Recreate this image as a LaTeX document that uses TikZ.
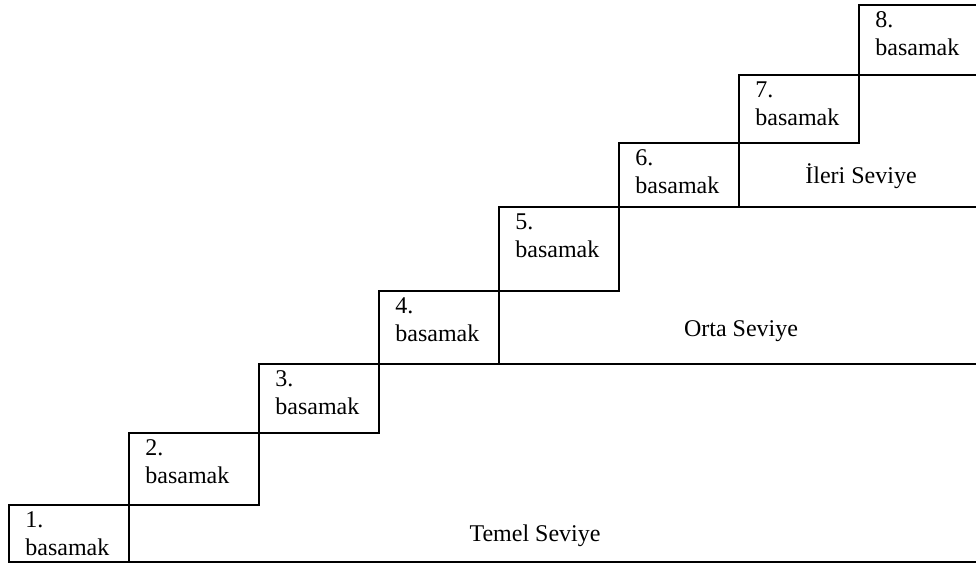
\documentclass[tikz,border=0pt]{standalone}
\usepackage{fontspec}
\setmainfont{Liberation Serif}
\tikzset{
	stepline/.style={line width=1.2pt,line join=miter},
	steptext/.style={anchor=base west,inner sep=0pt,font=\fontsize{12}{14}\selectfont},
	leveltext/.style={anchor=base,inner sep=0pt,font=\fontsize{12}{14}\selectfont}
}
\begin{document}
\begin{tikzpicture}[x=0.5pt,y=-0.5pt]
		\useasboundingbox (0,0) rectangle (976,563) ;
		% basamaklar: numara / sol / sag / ust / alt
		\foreach \n/\xa/\xb/\ya/\yb in {1/9/129/505/562,2/129/259/433/505,3/259/379/364/433,4/379/499/291/364,5/499/619/207/291,6/619/739/143/207,7/739/859/75/143} {
			\draw[stepline] (\xa,\yb)--(\xa,\ya)--(\xb,\ya)--(\xb,\yb)--cycle ;
			\node[steptext] (n\n) at (\xa+16,\ya+22) {\n.} ;
			\node[steptext] (b\n) at (\xa+16,\ya+50) {basamak} ;
		}
		\draw[stepline] (859,75)--(859,5)--(976,5) ;
		\node[steptext] (n8) at (875,27) {8.} ;
		\node[steptext] (b8) at (875,55) {basamak} ;
		% seviye cizgileri
		\draw[stepline] (129,562)--(976,562) ;
		\draw[stepline] (499,364)--(976,364) ;
		\draw[stepline] (739,207)--(976,207) ;
		\draw[stepline] (859,75)--(976,75) ;
		\node[leveltext] (temel) at (535,541) {Temel Seviye} ;
		\node[leveltext] (orta) at (741,336) {Orta Seviye} ;
		\node[leveltext] (ileri) at (861,183) {İleri Seviye} ;
	\end{tikzpicture}
\end{document}
